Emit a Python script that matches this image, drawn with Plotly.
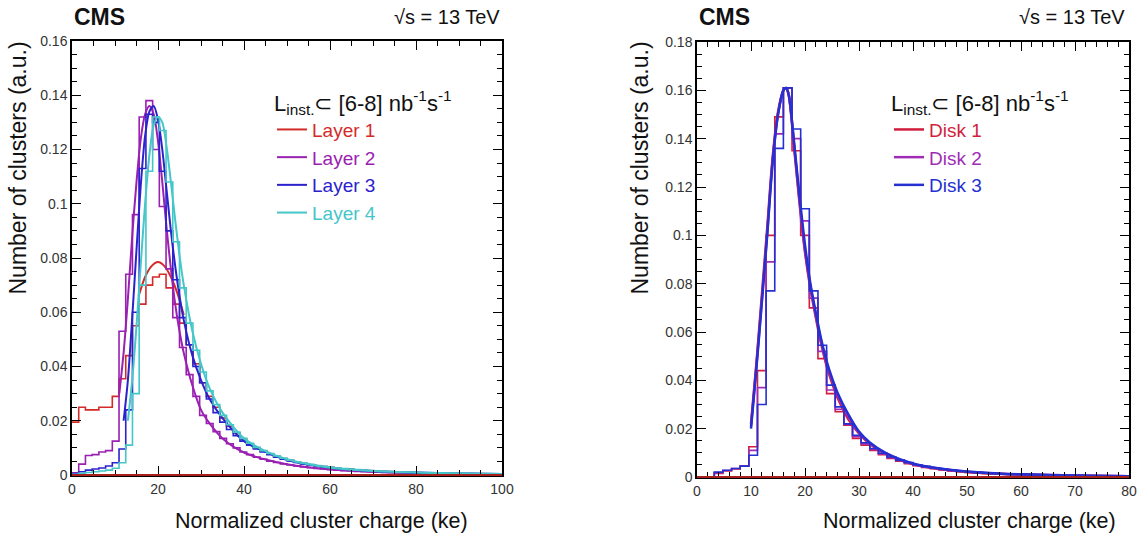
import plotly.graph_objects as go
from plotly.subplots import make_subplots

# ---- left panel: barrel layers (bins of 100/64 ke) ----
layer_bin_width = 1.5625
layer_names = ["Layer 1", "Layer 2", "Layer 3", "Layer 4"]
layer_colors = ["#d42a2a", "#9a20b2", "#2b22cc", "#45c6c8"]

layer1_hist = [0.0195, 0.025, 0.024, 0.024, 0.025, 0.025, 0.029, 0.0355, 0.044, 0.055,
               0.063, 0.070, 0.073, 0.074, 0.069, 0.063, 0.056, 0.048, 0.041, 0.034,
               0.029, 0.025, 0.021, 0.018, 0.0155, 0.0133, 0.0115, 0.010, 0.0088, 0.0078,
               0.0069, 0.0061, 0.0054, 0.0048, 0.0043, 0.0038, 0.0034, 0.0031, 0.0028, 0.0025,
               0.0023, 0.0021, 0.0019, 0.0017, 0.0015, 0.0014, 0.0013, 0.0012, 0.0011, 0.001,
               0.0009, 0.00085, 0.0008, 0.00072, 0.00066, 0.0006, 0.00055, 0.0005, 0.00046, 0.00042,
               0.00039, 0.00036, 0.00033, 0.0003]
layer2_hist = [0.0008, 0.004, 0.0072, 0.0075, 0.0085, 0.009, 0.0125, 0.053, 0.074, 0.096,
               0.132, 0.138, 0.120, 0.099, 0.076, 0.058, 0.047, 0.037, 0.029, 0.022,
               0.019, 0.016, 0.0135, 0.0115, 0.010, 0.0085, 0.0075, 0.0066, 0.0058, 0.0051,
               0.0046, 0.0041, 0.0037, 0.0033, 0.003, 0.0027, 0.0024, 0.0022, 0.002, 0.0018,
               0.0016, 0.0015, 0.0013, 0.0012, 0.0011, 0.001, 0.0009, 0.00085, 0.0008, 0.00072,
               0.00066, 0.0006, 0.00055, 0.0005, 0.00046, 0.00042, 0.00039, 0.00036, 0.00033, 0.0003,
               0.00028, 0.00026, 0.00024, 0.00022]
layer3_hist = [0.0005, 0.0012, 0.0018, 0.0022, 0.0026, 0.0033, 0.0045, 0.0096, 0.024, 0.060,
               0.113, 0.133, 0.130, 0.112, 0.090, 0.072, 0.058, 0.048, 0.040, 0.034,
               0.028, 0.023, 0.0195, 0.0168, 0.0145, 0.0125, 0.011, 0.0096, 0.0085, 0.0075,
               0.0066, 0.0058, 0.0052, 0.0046, 0.0041, 0.0037, 0.0033, 0.003, 0.0027, 0.0024,
               0.0022, 0.002, 0.0018, 0.0016, 0.0015, 0.0013, 0.0012, 0.0011, 0.001, 0.0009,
               0.00085, 0.0008, 0.00072, 0.00066, 0.0006, 0.00055, 0.0005, 0.00046, 0.00042, 0.00038,
               0.00035, 0.00032, 0.0003, 0.00028]
layer4_hist = [0.0003, 0.0006, 0.0009, 0.0012, 0.0015, 0.0018, 0.0025, 0.0045, 0.011, 0.030,
               0.070, 0.112, 0.132, 0.127, 0.108, 0.086, 0.069, 0.056, 0.046, 0.038,
               0.031, 0.026, 0.022, 0.0185, 0.0158, 0.0135, 0.0117, 0.0102, 0.009, 0.0079,
               0.007, 0.0062, 0.0055, 0.0049, 0.0044, 0.0039, 0.0035, 0.0032, 0.0029, 0.0026,
               0.0024, 0.0022, 0.002, 0.0018, 0.0016, 0.0015, 0.0014, 0.0013, 0.0012, 0.0011,
               0.001, 0.0009, 0.00085, 0.0008, 0.00072, 0.00066, 0.0006, 0.00055, 0.0005, 0.00046,
               0.00042, 0.00039, 0.00036, 0.00033]

layer1_fit_x = [15.5, 17, 18.5, 20, 21.5, 23, 24.5, 26]
layer1_fit_y = [0.066, 0.073, 0.077, 0.0785, 0.077, 0.073, 0.067, 0.059]
layer2_fit_x = [11, 12, 13, 14, 15, 16, 17, 18, 19, 20, 21, 22, 23, 24, 25, 26, 28, 30, 32,
                35, 40, 45, 50, 60, 70, 80, 90, 100]
layer2_fit_y = [0.030, 0.045, 0.065, 0.088, 0.108, 0.124, 0.133, 0.136, 0.133, 0.123, 0.108,
                0.091, 0.076, 0.063, 0.053, 0.045, 0.033, 0.024, 0.019, 0.0135, 0.0083, 0.0057,
                0.004, 0.0021, 0.0012, 0.0008, 0.0005, 0.0003]
layer3_fit_x = [12, 13, 14, 15, 16, 17, 18, 19, 20, 21, 22, 23, 24, 25, 26, 28, 30, 32,
                35, 40, 45, 50, 60, 70, 80, 90, 100]
layer3_fit_y = [0.020, 0.035, 0.058, 0.083, 0.107, 0.125, 0.134, 0.136, 0.131, 0.120, 0.105,
                0.090, 0.077, 0.066, 0.057, 0.044, 0.035, 0.028, 0.021, 0.0125, 0.0085, 0.0055,
                0.0027, 0.0015, 0.0009, 0.0006, 0.0004]
layer4_fit_x = [13, 14, 15, 16, 17, 18, 19, 20, 21, 22, 23, 24, 25, 26, 28, 30, 32,
                35, 40, 45, 50, 60, 70, 80, 90, 100]
layer4_fit_y = [0.020, 0.035, 0.055, 0.078, 0.100, 0.118, 0.129, 0.132, 0.130, 0.121, 0.108,
                0.094, 0.081, 0.070, 0.053, 0.041, 0.032, 0.023, 0.0135, 0.0088, 0.0058,
                0.0027, 0.0015, 0.0009, 0.0006, 0.0004]

# ---- right panel: forward disks (bins of 1.6 ke) ----
disk_bin_width = 1.6
disk_names = ["Disk 1", "Disk 2", "Disk 3"]
disk_colors = ["#d21e3c", "#a02cb6", "#2530d0"]

disk1_hist = [0, 0, 0.0015, 0.0025, 0.0033, 0.0045, 0.0125, 0.044, 0.100, 0.149,
              0.161, 0.135, 0.100, 0.070, 0.049, 0.0345, 0.027, 0.0214, 0.016, 0.0132,
              0.011, 0.0092, 0.0077, 0.0065, 0.0055, 0.0047, 0.004, 0.0034, 0.0029, 0.0025,
              0.0022, 0.0019, 0.0017, 0.0015, 0.0013, 0.0012, 0.0011, 0.001, 0.0009, 0.0008,
              0.0007, 0.00065, 0.0006, 0.00055, 0.0005, 0.00045, 0.0004, 0.00037, 0.00034, 0.0003]
disk2_hist = [0, 0, 0.0018, 0.0027, 0.0035, 0.0045, 0.011, 0.037, 0.089, 0.142,
              0.161, 0.140, 0.106, 0.074, 0.052, 0.036, 0.028, 0.0217, 0.0167, 0.0137,
              0.0114, 0.0095, 0.008, 0.0068, 0.0058, 0.0049, 0.0042, 0.0036, 0.0031, 0.0027,
              0.0024, 0.0021, 0.0018, 0.0016, 0.0014, 0.0013, 0.0011, 0.001, 0.0009, 0.0008,
              0.0007, 0.00065, 0.0006, 0.00055, 0.0005, 0.00045, 0.0004, 0.00037, 0.00034, 0.0003]
disk3_hist = [0, 0, 0.002, 0.0028, 0.0035, 0.0045, 0.009, 0.030, 0.077, 0.136,
              0.161, 0.144, 0.111, 0.077, 0.0545, 0.038, 0.029, 0.022, 0.0173, 0.0142,
              0.0118, 0.0098, 0.0083, 0.007, 0.006, 0.0051, 0.0044, 0.0038, 0.0033, 0.0029,
              0.0025, 0.0022, 0.0019, 0.0017, 0.0015, 0.0013, 0.0012, 0.0011, 0.001, 0.0009,
              0.0008, 0.0007, 0.00065, 0.0006, 0.00055, 0.0005, 0.00045, 0.0004, 0.00037, 0.00034]

disk_fit_x = [10, 11, 12, 13, 14, 15, 16, 16.5, 17, 18, 19, 20, 21, 22, 23, 24, 25, 26, 28,
              30, 32, 35, 40, 45, 50, 55, 60, 70, 80]
disk1_fit_y = [0.022, 0.047, 0.075, 0.103, 0.132, 0.151, 0.160, 0.161, 0.158, 0.136, 0.113,
               0.093, 0.078, 0.066, 0.055, 0.046, 0.039, 0.033, 0.024, 0.018, 0.0137, 0.0095,
               0.0053, 0.0033, 0.0021, 0.0014, 0.001, 0.0005, 0.0003]
disk2_fit_y = [0.021, 0.046, 0.073, 0.101, 0.131, 0.150, 0.160, 0.161, 0.158, 0.137, 0.114,
               0.094, 0.079, 0.067, 0.056, 0.047, 0.040, 0.034, 0.025, 0.0183, 0.014, 0.0097,
               0.0054, 0.0034, 0.0022, 0.0015, 0.0011, 0.0006, 0.0003]
disk3_fit_y = [0.020, 0.045, 0.072, 0.100, 0.130, 0.150, 0.160, 0.161, 0.158, 0.138, 0.116,
               0.096, 0.080, 0.068, 0.057, 0.048, 0.041, 0.035, 0.026, 0.0188, 0.0143, 0.0099,
               0.0056, 0.0035, 0.0023, 0.0016, 0.0011, 0.0006, 0.0003]

FONT = "Liberation Sans, Arial, sans-serif"
W, H = 1140, 534


def step_xy(values, width):
    # histogram outline: bin edges with the last value repeated for the 'hv' shape
    edges = [width * k for k in range(len(values) + 1)]
    return edges, list(values) + [values[-1]]


def px(x):
    return x / W


def py(y):
    return 1 - y / H


fig = make_subplots(rows=1, cols=2)

left = [(layer1_hist, layer1_fit_x, layer1_fit_y), (layer2_hist, layer2_fit_x, layer2_fit_y),
        (layer3_hist, layer3_fit_x, layer3_fit_y), (layer4_hist, layer4_fit_x, layer4_fit_y)]
for (hist, fx, fy), name, color in zip(left, layer_names, layer_colors):
    ex, ey = step_xy(hist, layer_bin_width)
    fig.add_trace(go.Scatter(x=ex, y=ey, mode="lines", line=dict(color=color, width=1.6, shape="hv"),
                             showlegend=False, hoverinfo="skip"), row=1, col=1)
    fig.add_trace(go.Scatter(x=fx, y=fy, mode="lines", line=dict(color=color, width=2, shape="spline", smoothing=0.8),
                             name=f"<span style='color:{color}'>{name}</span>", legend="legend"), row=1, col=1)

right = [(disk1_hist, disk1_fit_y), (disk2_hist, disk2_fit_y), (disk3_hist, disk3_fit_y)]
for (hist, fy), name, color in zip(right, disk_names, disk_colors):
    ex, ey = step_xy(hist, disk_bin_width)
    fig.add_trace(go.Scatter(x=ex, y=ey, mode="lines", line=dict(color=color, width=1.6, shape="hv"),
                             showlegend=False, hoverinfo="skip"), row=1, col=2)
    fig.add_trace(go.Scatter(x=disk_fit_x, y=fy, mode="lines", line=dict(color=color, width=2.5, shape="spline", smoothing=0.8),
                             name=f"<span style='color:{color}'>{name}</span>", legend="legend2"), row=1, col=2)

axis_common = dict(ticks="inside", ticklen=9, tickwidth=1, tickcolor="black", showline=True,
                   linecolor="black", linewidth=1.5, mirror="allticks", showgrid=False, zeroline=False,
                   automargin=False, tickfont=dict(family=FONT, size=14, color="#333"))

fig.update_xaxes(domain=[px(72), px(502)], range=[0, 100], dtick=20, tick0=0,
                 minor=dict(ticks="inside", dtick=5, ticklen=5, tickcolor="black"), row=1, col=1, **axis_common)
fig.update_yaxes(domain=[py(475), py(41)], range=[0, 0.16], dtick=0.02, tick0=0,
                 minor=dict(ticks="inside", dtick=0.005, ticklen=5, tickcolor="black"), row=1, col=1, **axis_common)
fig.update_xaxes(domain=[px(697), px(1129)], range=[0, 80], dtick=10, tick0=0,
                 minor=dict(ticks="inside", dtick=2, ticklen=5, tickcolor="black"), row=1, col=2, **axis_common)
fig.update_yaxes(domain=[py(477), py(42)], range=[0, 0.18], dtick=0.02, tick0=0,
                 minor=dict(ticks="inside", dtick=0.005, ticklen=5, tickcolor="black"), row=1, col=2, **axis_common)

legend_title = "L<sub>inst.</sub>⊂ [6-8] nb<sup>-1</sup>s<sup>-1</sup>"
legend_common = dict(xanchor="left", yanchor="top", bgcolor="rgba(0,0,0,0)", itemwidth=30,
                     font=dict(family=FONT, size=19), title=dict(text=legend_title, font=dict(family=FONT, size=22, color="#111")))

annotations = []
for x_left, x_right, x_ytitle in [(72, 502, 18), (697, 1127, 640)]:
    annotations += [
        dict(text="<b>CMS</b>", x=px(x_left), y=py(17), xanchor="left", yanchor="middle", font=dict(size=23)),
        dict(text="√s = 13 TeV", x=px(x_right), y=py(17), xanchor="right", yanchor="middle", font=dict(size=20)),
        dict(text="Number of clusters (a.u.)", x=px(x_ytitle), y=py(40), xanchor="center", yanchor="top",
             textangle=-90, font=dict(size=23)),
    ]
annotations += [
    dict(text="Normalized cluster charge (ke)", x=px(470), y=py(521), xanchor="right", yanchor="middle", font=dict(size=21.5)),
    dict(text="Normalized cluster charge (ke)", x=px(1118), y=py(521), xanchor="right", yanchor="middle", font=dict(size=21.5)),
]
for a in annotations:
    a.update(xref="paper", yref="paper", showarrow=False)
    a["font"].update(family=FONT, color="#111")

# dark red baseline running along the bottom of each frame
shapes = [dict(type="line", xref=f"{xa} domain", yref=f"{ya} domain", x0=0, x1=1, y0=0, y1=0,
               line=dict(color="#a8201c", width=2)) for xa, ya in [("x", "y"), ("x2", "y2")]]

fig.update_layout(
    width=W, height=H, margin=dict(l=0, r=0, t=0, b=0),
    plot_bgcolor="white", paper_bgcolor="white",
    legend=dict(x=px(272), y=py(82), **legend_common),
    legend2=dict(x=px(889), y=py(82), **legend_common),
    annotations=annotations, shapes=shapes,
)

# drop the browser's default body margin so the figure sits at the page origin
fig.write_html("out.html", config={"displayModeBar": False},
               post_script="document.body.style.margin = '0';")
